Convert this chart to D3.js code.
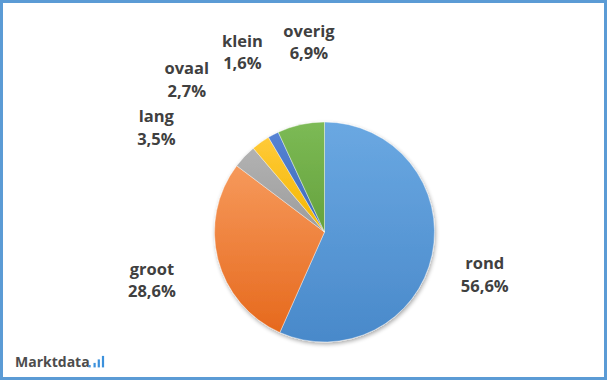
<!DOCTYPE html>
<html>
<head>
<meta charset="utf-8">
<script src="https://cdn.jsdelivr.net/npm/d3@7"></script>
<style>
  html, body { margin: 0; padding: 0; background: #fff; }
  svg { display: block; }
  .lbl { font-family: "Open Sans", "Noto Sans", sans-serif; font-weight: 700; font-size: 16.5px; fill: #404040; }
</style>
</head>
<body>
<svg id="chart" width="607" height="380"></svg>
<script>
// data
const categories = ["rond", "groot", "lang", "ovaal", "klein", "overig"];
const values = [56.6, 28.6, 3.5, 2.7, 1.6, 6.9];
const valueLabels = ["56,6%", "28,6%", "3,5%", "2,7%", "1,6%", "6,9%"];

// colours (top / bottom of gradient)
const colTop = ["#6aa8e2", "#f6995b", "#b2b2b2", "#ffca38", "#5583d4", "#7cba55"];
const colBot = ["#4989ca", "#e6691d", "#9c9c9c", "#f3b600", "#3e69b9", "#66a23d"];
// label nudges from outer centroid (Excel spreads the small ones)
const nudge = [[-6, 2], [-8, 0], [-44.5, 7], [-39, -19.5], [-3, -35], [21, -29]];

const width = 607, height = 380;
const cx = 324.5, cy = 232, radius = 110;

const svg = d3.select("#chart");
const defs = svg.append("defs");

// frame
svg.append("rect")
    .attr("x", 1.5).attr("y", 1.5)
    .attr("width", width - 3).attr("height", height - 3)
    .attr("fill", "#fff")
    .attr("stroke", "#5b9bd5")
    .attr("stroke-width", 3);

// shadow for the pie
const f = defs.append("filter").attr("id", "shadow")
    .attr("x", "-10%").attr("y", "-10%").attr("width", "130%").attr("height", "130%");
f.append("feGaussianBlur").attr("in", "SourceAlpha").attr("stdDeviation", 2);
f.append("feOffset").attr("dx", 1).attr("dy", 2).attr("result", "ob");
f.append("feComponentTransfer").append("feFuncA").attr("type", "linear").attr("slope", 0.35);
const fm = f.append("feMerge");
fm.append("feMergeNode");
fm.append("feMergeNode").attr("in", "SourceGraphic");

categories.forEach((c, i) => {
    const g = defs.append("linearGradient").attr("id", "grad" + i)
        .attr("x1", 0).attr("y1", 0).attr("x2", 0).attr("y2", 1);
    g.append("stop").attr("offset", "0%").attr("stop-color", colTop[i]);
    g.append("stop").attr("offset", "100%").attr("stop-color", colBot[i]);
});

const pie = d3.pie().sort(null).value(d => d);
const arcs = pie(values);
const arc = d3.arc().innerRadius(0).outerRadius(radius);
const outerArc = d3.arc().innerRadius(170).outerRadius(170);

const gPie = svg.append("g")
    .attr("transform", `translate(${cx},${cy})`)
    .attr("filter", "url(#shadow)");

gPie.selectAll("path")
    .data(arcs)
    .enter()
    .append("path")
    .attr("d", arc)
    .attr("fill", (d, i) => `url(#grad${i})`)
    .attr("stroke", "#fff")
    .attr("stroke-width", 0.4);

// labels
const gLab = svg.append("g").attr("transform", `translate(${cx},${cy})`);
const t = gLab.selectAll("text")
    .data(arcs)
    .enter()
    .append("text")
    .attr("class", "lbl")
    .attr("text-anchor", "middle")
    .attr("transform", (d, i) => {
        const p = outerArc.centroid(d);
        return `translate(${p[0] + nudge[i][0]},${p[1] + nudge[i][1]})`;
    });
t.append("tspan").attr("x", 0).attr("y", 0).text((d, i) => categories[i]);
t.append("tspan").attr("x", 0).attr("y", 22.5).text((d, i) => valueLabels[i]);

// logo
svg.append("text")
    .attr("x", 15).attr("y", 367)
    .attr("font-family", "Open Sans, sans-serif")
    .attr("font-weight", 700)
    .attr("font-size", "14px")
    .attr("fill", "#4d4d4d")
    .text("Marktdata");
svg.append("rect").attr("x", 88.5).attr("y", 365).attr("width", 2.2).attr("height", 2.4).attr("fill", "#3c91dc");
const barH = [4.5, 8, 11.5];
svg.selectAll(".logobar")
    .data(barH)
    .enter()
    .append("rect")
    .attr("class", "logobar")
    .attr("x", (d, i) => 93.5 + i * 4.2)
    .attr("y", d => 367.4 - d)
    .attr("width", 2.2)
    .attr("height", d => d)
    .attr("fill", "#3c91dc");
</script>
</body>
</html>
